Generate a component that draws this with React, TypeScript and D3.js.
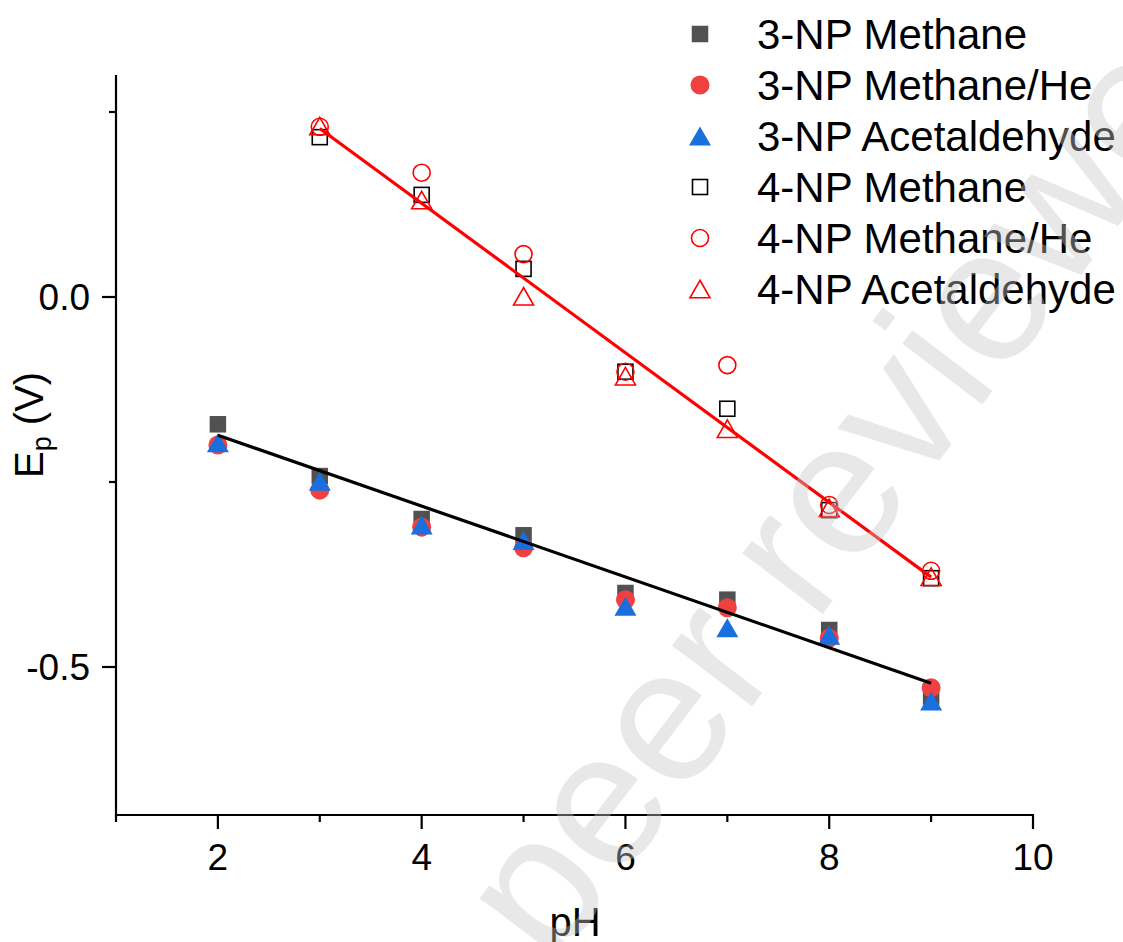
import React from 'react';
import * as d3 from 'd3';

// pH values for the two compounds
const pH3NP = [2, 3, 4, 5, 6, 7, 8, 9];
const pH4NP = [3, 4, 5, 6, 7, 8, 9];

// peak potentials Ep (V)
const np3Methane = [-0.172, -0.242, -0.3, -0.322, -0.4, -0.409, -0.45, -0.54];
const np3MethaneHe = [-0.2, -0.261, -0.311, -0.339, -0.409, -0.42, -0.461, -0.528];
const np3Acetaldehyde = [-0.197, -0.249, -0.308, -0.329, -0.418, -0.447, -0.457, -0.546];
const np4Methane = [0.216, 0.138, 0.038, -0.101, -0.151, -0.288, -0.38];
const np4MethaneHe = [0.23, 0.168, 0.058, -0.101, -0.092, -0.281, -0.37];
const np4Acetaldehyde = [0.231, 0.131, 0.001, -0.107, -0.178, -0.285, -0.378];

const xMajor = [2, 4, 6, 8, 10];
const xMinor = [1, 3, 5, 7, 9];
const yMajor = [-0.5, 0.0];
const yMinor = [-0.25, 0.25];

const FONT = 'Arial, "Liberation Sans", Helvetica, sans-serif';

type Shape = 'square' | 'circle' | 'triangle';

const series = [
  { name: '3-NP Methane', x: pH3NP, y: np3Methane, shape: 'square' as Shape, filled: true, color: '#515151' },
  { name: '3-NP Methane/He', x: pH3NP, y: np3MethaneHe, shape: 'circle' as Shape, filled: true, color: '#F14040' },
  { name: '3-NP Acetaldehyde', x: pH3NP, y: np3Acetaldehyde, shape: 'triangle' as Shape, filled: true, color: '#1A6FDF' },
  { name: '4-NP Methane', x: pH4NP, y: np4Methane, shape: 'square' as Shape, filled: false, color: '#000000' },
  { name: '4-NP Methane/He', x: pH4NP, y: np4MethaneHe, shape: 'circle' as Shape, filled: false, color: '#FF0000' },
  { name: '4-NP Acetaldehyde', x: pH4NP, y: np4Acetaldehyde, shape: 'triangle' as Shape, filled: false, color: '#FF0000' },
];

// linear fits (drawn for the methane series)
const fits = [
  { x: pH3NP, y: np3Methane, color: '#000000' },
  { x: pH4NP, y: np4Methane, color: '#FF0000' },
];

function linFit(xs: number[], ys: number[]) {
  const mx = d3.mean(xs)!;
  const my = d3.mean(ys)!;
  let sxy = 0, sxx = 0;
  xs.forEach((x, i) => {
    sxy += (x - mx) * (ys[i] - my);
    sxx += (x - mx) * (x - mx);
  });
  const b = sxy / sxx;
  const a = my - b * mx;
  return (x: number) => a + b * x;
}

function Marker({ shape, filled, color, cx, cy }: { shape: Shape; filled: boolean; color: string; cx: number; cy: number }) {
  const fill = filled ? color : 'none';
  const stroke = filled ? 'none' : color;
  const sw = filled ? 0 : 1.6;
  if (shape === 'square') {
    const s = filled ? 16.5 : 15;
    return <rect x={cx - s / 2} y={cy - s / 2} width={s} height={s} fill={fill} stroke={stroke} strokeWidth={sw} />;
  }
  if (shape === 'circle') {
    const r = filled ? 9.5 : 8.5;
    return <circle cx={cx} cy={cy} r={r} fill={fill} stroke={stroke} strokeWidth={sw} />;
  }
  const w = filled ? 22 : 20;
  const h = filled ? 19 : 17.5;
  const pts = `${cx},${cy - h / 2} ${cx + w / 2},${cy + h / 2} ${cx - w / 2},${cy + h / 2}`;
  return <polygon points={pts} fill={fill} stroke={stroke} strokeWidth={sw} strokeLinejoin="miter" />;
}

export default function App() {
  const width = 1123;
  const height = 942;
  const x = d3.scaleLinear().domain([1, 10]).range([116, 1033]);
  const y = d3.scaleLinear().domain([-0.7, 0.3]).range([815, 75]);
  const x0 = x.range()[0];
  const yb = y.range()[0];

  const line = d3.line<[number, number]>().x(d => x(d[0])).y(d => y(d[1]));

  return (
    <svg width={width} height={height} style={{ position: 'absolute', left: 0, top: 0, background: '#fff' }}>
      {/* fit lines go on top of the symbols */}
      {series.map((s, si) => (
        <g key={si}>
          {s.x.map((px, i) => (
            <Marker key={i} shape={s.shape} filled={s.filled} color={s.color} cx={x(px)} cy={y(s.y[i])} />
          ))}
        </g>
      ))}
      {fits.map((f, i) => {
        const fn = linFit(f.x, f.y);
        const ext = d3.extent(f.x) as [number, number];
        return <path key={i} d={line(ext.map(v => [v, fn(v)] as [number, number]))!} stroke={f.color} strokeWidth={3.2} fill="none" />;
      })}

      {/* axes */}
      <line x1={x0} x2={x0} y1={y.range()[1]} y2={yb + 1} stroke="#000" strokeWidth={2.2} />
      <line x1={x0 - 1} x2={x(10) + 1} y1={yb} y2={yb} stroke="#000" strokeWidth={2.2} />
      {xMajor.map(v => (
        <g key={v}>
          <line x1={x(v)} x2={x(v)} y1={yb} y2={yb + 14} stroke="#000" strokeWidth={2.2} />
          <text x={x(v)} y={870} textAnchor="middle" fontSize={37} fontFamily={FONT}>{v}</text>
        </g>
      ))}
      {xMinor.map(v => (
        <line key={v} x1={x(v)} x2={x(v)} y1={yb} y2={yb + 7} stroke="#000" strokeWidth={2.2} />
      ))}
      {yMajor.map(v => (
        <g key={v}>
          <line x1={x0 - 14} x2={x0} y1={y(v)} y2={y(v)} stroke="#000" strokeWidth={2.2} />
          <text x={90} y={y(v) + 13} textAnchor="end" fontSize={37} fontFamily={FONT}>{d3.format('.1f')(v).replace('−', '-')}</text>
        </g>
      ))}
      {yMinor.map(v => (
        <line key={v} x1={x0 - 7} x2={x0} y1={y(v)} y2={y(v)} stroke="#000" strokeWidth={2.2} />
      ))}

      <text x={575} y={936} textAnchor="middle" fontSize={40} fontFamily={FONT}>pH</text>
      <text transform="translate(43,478) rotate(-90)" fontSize={40} fontFamily={FONT}>
        E<tspan fontSize={27} dy={8}>p</tspan><tspan dy={-8}> (V)</tspan>
      </text>

      {/* legend */}
      {series.map((s, i) => (
        <g key={s.name}>
          <Marker shape={s.shape} filled={s.filled} color={s.color} cx={700} cy={34 + i * 51} />
          <text x={757} y={49 + i * 51} fontSize={42} fontFamily={FONT}>{s.name}</text>
        </g>
      ))}

      {/* watermark */}
      <text transform="translate(552,969) rotate(-52.7)" fontSize={190} fontFamily={FONT} fill="#c8c8c8" opacity={0.4}>
        peer reviewed
      </text>
    </svg>
  );
}
